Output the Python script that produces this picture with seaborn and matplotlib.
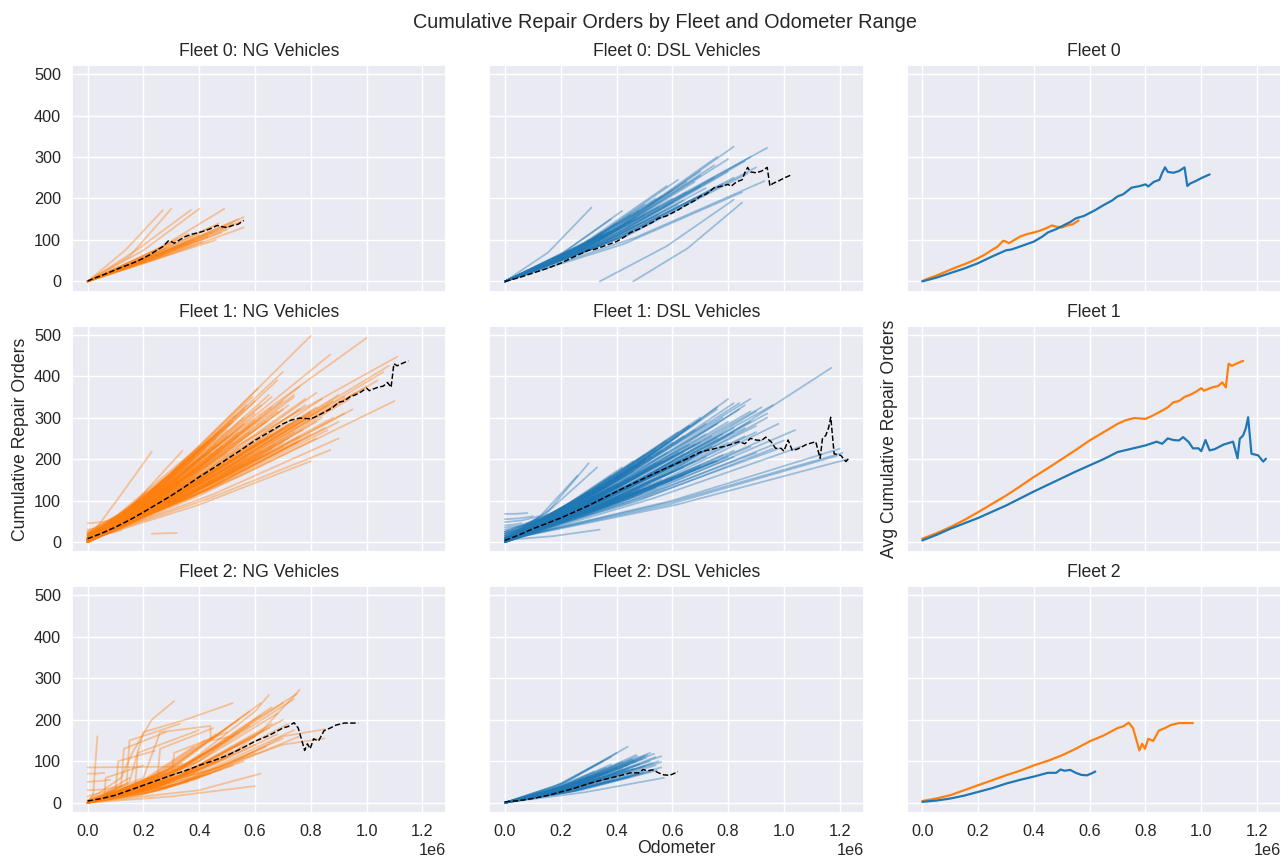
import numpy as np
import pandas as pd
import matplotlib
matplotlib.use("Agg")
import matplotlib.pyplot as plt
import seaborn as sns

# ---------------- data (odometer in thousands, repair orders) ----------------
ODO_UNIT = 1000

# average curves (dashed in vehicle panels, solid in right column)
F0_NG_AVG_X = [0, 25, 50, 75, 100, 125, 150, 175, 200, 225, 250, 270, 290, 300, 310, 330, 350, 375, 400, 420, 440, 465, 480, 500, 520, 540, 560]
F0_NG_AVG_Y = [1, 8, 14, 21, 28, 35, 41, 48, 56, 65, 76, 84, 98, 96, 92, 100, 108, 114, 118, 122, 127, 135, 132, 130, 135, 138, 147]

F0_DSL_AVG_X = [0, 50, 100, 150, 200, 250, 300, 320, 350, 400, 430, 450, 480, 500, 530, 550, 580, 600, 620, 650, 680, 700, 720, 750, 780, 800, 810, 830, 850, 860, 870, 880, 900, 920, 940, 950, 960, 980, 1000, 1030]
F0_DSL_AVG_Y = [0, 9, 20, 31, 44, 60, 75, 77, 84, 96, 108, 118, 126, 133, 143, 152, 158, 165, 172, 184, 195, 205, 210, 226, 230, 234, 229, 240, 245, 262, 275, 264, 262, 266, 275, 230, 236, 242, 249, 258]

F1_NG_AVG_X = [0, 50, 100, 150, 200, 250, 300, 350, 400, 450, 500, 550, 600, 650, 700, 730, 760, 780, 800, 820, 840, 860, 880, 900, 920, 940, 960, 980, 1000, 1010, 1020, 1040, 1060, 1075, 1088, 1098, 1110, 1125, 1150]
F1_NG_AVG_Y = [8, 21, 36, 53, 72, 92, 112, 134, 157, 178, 200, 222, 245, 265, 285, 294, 299, 298, 297, 303, 310, 317, 325, 337, 340, 350, 355, 362, 371, 365, 368, 373, 376, 385, 373, 430, 425, 430, 437]

F1_DSL_AVG_X = [0, 50, 100, 150, 200, 250, 300, 350, 400, 450, 500, 550, 600, 650, 700, 750, 800, 840, 860, 880, 900, 920, 935, 955, 970, 990, 1000, 1015, 1030, 1048, 1080, 1114, 1130, 1138, 1150, 1160, 1168, 1180, 1204, 1222, 1232]
F1_DSL_AVG_Y = [4, 17, 32, 45, 58, 73, 88, 105, 122, 138, 154, 170, 185, 200, 217, 225, 233, 242, 237, 250, 246, 245, 253, 241, 226, 226, 219, 246, 221, 224, 235, 242, 202, 249, 257, 275, 301, 213, 209, 194, 201]

F2_NG_AVG_X = [0, 50, 100, 150, 200, 250, 300, 350, 400, 450, 500, 550, 600, 650, 700, 720, 740, 755, 768, 778, 788, 798, 810, 828, 848, 870, 890, 920, 950, 970]
F2_NG_AVG_Y = [4, 10, 18, 30, 42, 54, 66, 77, 90, 101, 114, 130, 148, 162, 180, 184, 193, 180, 150, 126, 142, 130, 154, 149, 174, 180, 187, 192, 192, 192]

F2_DSL_AVG_X = [0, 50, 100, 150, 200, 250, 300, 350, 400, 450, 480, 495, 510, 530, 550, 570, 590, 605, 620]
F2_DSL_AVG_Y = [2, 5, 10, 17, 26, 35, 46, 55, 63, 72, 72, 80, 77, 79, 72, 67, 66, 70, 75]

# individual vehicles: (odo_start, odo_end, ro_start, ro_mid, ro_end)
F0_NG = [
    (0, 270, 0, 75, 172), (0, 300, 0, 60, 175), (0, 370, 0, 80, 172), (0, 400, 0, 75, 175),
    (0, 490, 0, 75, 175), (0, 560, 0, 75, 155), (0, 560, 0, 62, 130), (0, 540, 0, 70, 150),
    (0, 520, 0, 65, 140), (0, 500, 0, 60, 125), (0, 480, 0, 55, 118), (0, 450, 0, 58, 120),
    (0, 430, 0, 50, 108), (0, 400, 0, 52, 112), (0, 380, 0, 45, 98), (0, 350, 0, 45, 92),
    (0, 330, 0, 40, 85), (0, 300, 0, 45, 90), (0, 280, 0, 38, 80), (0, 250, 0, 30, 70),
    (0, 220, 0, 28, 60), (0, 200, 0, 25, 55), (0, 470, 0, 65, 140), (0, 520, 0, 62, 135),
    (0, 440, 0, 62, 130), (0, 360, 0, 55, 115), (0, 320, 0, 50, 100), (0, 550, 0, 70, 145),
    (0, 410, 0, 45, 95), (0, 460, 0, 50, 100),
]

F0_DSL = [
    (0, 310, 0, 70, 178), (0, 820, 0, 130, 325), (0, 940, 0, 150, 322), (0, 880, 0, 135, 300),
    (0, 860, 0, 125, 290), (0, 800, 0, 125, 295), (0, 750, 0, 115, 280), (0, 700, 0, 110, 265),
    (0, 650, 0, 95, 240), (0, 600, 0, 90, 220), (0, 560, 0, 85, 205), (0, 500, 0, 75, 185),
    (0, 450, 0, 65, 160), (0, 400, 0, 55, 140), (0, 350, 0, 45, 120), (0, 300, 0, 42, 100),
    (0, 250, 0, 35, 80), (0, 870, 0, 110, 260), (0, 900, 0, 115, 275), (0, 820, 0, 105, 250),
    (0, 780, 0, 100, 235), (0, 720, 0, 95, 225), (0, 680, 0, 85, 200), (0, 640, 0, 80, 195),
    (0, 620, 0, 100, 245), (0, 580, 0, 95, 230), (0, 930, 0, 105, 242), (0, 850, 0, 90, 215),
    (340, 820, 0, 85, 197), (460, 850, 0, 80, 190), (0, 540, 0, 80, 200), (0, 480, 0, 70, 170),
    (0, 760, 0, 120, 300), (0, 700, 0, 105, 255), (0, 600, 0, 80, 190), (0, 550, 0, 70, 160),
    (0, 200, 0, 25, 60), (0, 150, 0, 18, 40), (0, 380, 0, 60, 150), (0, 420, 0, 70, 170),
    (0, 500, 0, 65, 160), (0, 550, 0, 75, 180), (0, 600, 0, 85, 200), (0, 650, 0, 90, 215),
    (0, 700, 0, 95, 230), (0, 750, 0, 105, 250), (0, 800, 0, 110, 265), (0, 450, 0, 60, 145),
    (0, 400, 0, 52, 125), (0, 350, 0, 50, 115), (0, 300, 0, 38, 95), (0, 620, 0, 80, 185),
    (0, 680, 0, 100, 240), (0, 740, 0, 95, 220),
]

F1_NG = [
    (0, 800, 5, 230, 497), (0, 1000, 5, 250, 492), (0, 870, 5, 215, 452), (0, 1110, 5, 240, 447),
    (0, 1100, 5, 160, 340), (0, 1060, 5, 195, 410), (0, 1080, 5, 205, 425), (0, 230, 5, 110, 218),
    (0, 340, 5, 95, 220), (0, 700, 5, 190, 410), (0, 800, 5, 90, 195), (0, 870, 5, 105, 222),
    (0, 950, 5, 150, 320), (0, 920, 5, 165, 350), (0, 760, 5, 170, 375), (0, 680, 5, 175, 390),
    (0, 650, 5, 160, 355), (0, 620, 5, 150, 330), (0, 600, 5, 140, 310), (0, 580, 5, 125, 280),
    (0, 560, 5, 135, 300), (0, 540, 5, 120, 265), (0, 520, 5, 110, 240), (0, 500, 5, 115, 255),
    (0, 480, 5, 100, 220), (0, 460, 5, 105, 235), (0, 440, 5, 90, 200), (0, 420, 5, 95, 210),
    (0, 400, 5, 80, 175), (0, 380, 5, 85, 185), (0, 360, 5, 72, 160), (0, 340, 5, 68, 150),
    (0, 320, 5, 62, 135), (0, 300, 5, 60, 130), (0, 280, 5, 52, 115), (0, 260, 5, 50, 105),
    (0, 240, 5, 45, 95), (0, 220, 5, 40, 85), (0, 200, 5, 38, 80), (0, 180, 5, 33, 70),
    (0, 160, 5, 30, 62), (0, 140, 5, 26, 55), (0, 120, 5, 22, 47), (0, 100, 5, 20, 40),
    (0, 700, 5, 145, 320), (0, 720, 5, 130, 285), (0, 740, 5, 120, 265), (0, 760, 5, 110, 245),
    (0, 780, 5, 150, 330), (0, 800, 5, 140, 310), (0, 820, 5, 130, 290), (0, 840, 5, 160, 345),
    (0, 860, 5, 125, 270), (0, 880, 5, 140, 300), (0, 900, 5, 115, 250), (0, 650, 5, 115, 255),
    (0, 660, 5, 100, 225), (0, 630, 5, 95, 210), (0, 610, 5, 170, 370), (0, 590, 5, 160, 350),
    (0, 570, 5, 150, 330), (0, 550, 5, 95, 210), (0, 530, 5, 140, 305), (0, 510, 5, 130, 285),
    (0, 490, 5, 85, 190), (0, 470, 5, 120, 265), (0, 450, 5, 78, 170), (0, 430, 5, 110, 240),
    (0, 410, 5, 70, 155), (0, 390, 5, 100, 220), (0, 370, 5, 62, 140), (0, 350, 5, 90, 195),
    (0, 330, 5, 55, 120), (0, 310, 5, 80, 170), (0, 290, 5, 48, 105), (0, 270, 5, 70, 150),
    (0, 250, 5, 42, 92), (0, 210, 5, 55, 120), (0, 190, 5, 48, 100), (0, 170, 5, 40, 85),
    (0, 680, 5, 125, 275), (0, 960, 5, 170, 360), (0, 1000, 5, 175, 375), (0, 1040, 5, 185, 390),
    (0, 100, 45, 48, 55), (0, 80, 30, 33, 40), (0, 60, 20, 24, 28), (0, 120, 10, 18, 28),
    (230, 320, 20, 21, 22), (0, 820, 5, 165, 360), (0, 740, 5, 160, 350),
    (0, 300, 15, 70, 140), (0, 320, 0, 60, 150), (0, 340, 20, 80, 165), (0, 360, 10, 75, 175),
    (0, 380, 25, 95, 200), (0, 400, 0, 85, 195), (0, 420, 15, 100, 225), (0, 440, 5, 95, 215),
    (0, 460, 20, 110, 250), (0, 480, 0, 100, 230), (0, 500, 10, 120, 270), (0, 520, 15, 120, 260),
    (0, 540, 5, 115, 255), (0, 560, 20, 130, 285), (0, 580, 0, 120, 265), (0, 600, 10, 135, 295),
    (0, 620, 25, 140, 300), (0, 640, 0, 130, 290), (0, 660, 15, 150, 325), (0, 680, 5, 145, 315),
    (0, 700, 10, 155, 340), (0, 720, 0, 150, 330), (0, 740, 20, 165, 355), (0, 760, 5, 150, 320),
    (0, 780, 10, 160, 345), (0, 800, 0, 145, 315), (0, 820, 15, 150, 325), (0, 840, 5, 140, 300),
    (0, 860, 10, 150, 330), (0, 880, 0, 155, 340), (0, 900, 5, 165, 355), (0, 920, 10, 145, 310),
    (0, 940, 0, 160, 345), (0, 500, 0, 95, 215), (0, 540, 10, 100, 225), (0, 580, 5, 105, 235),
    (0, 620, 0, 110, 245), (0, 660, 10, 120, 260), (0, 700, 0, 125, 275), (0, 740, 5, 135, 290),
    (0, 780, 0, 135, 295), (0, 450, 10, 80, 180), (0, 410, 0, 75, 165), (0, 370, 5, 70, 150),
    (0, 330, 15, 65, 140), (0, 290, 0, 55, 120), (0, 250, 10, 55, 115), (0, 210, 0, 40, 90),
    (0, 170, 20, 45, 85), (0, 130, 0, 28, 60), (0, 90, 15, 25, 40), (0, 700, 0, 110, 240),
    (0, 760, 0, 120, 255), (0, 820, 0, 115, 250), (0, 660, 0, 160, 350), (0, 600, 0, 155, 340),
    (0, 560, 10, 145, 320), (0, 520, 0, 130, 290), (0, 480, 5, 125, 270), (0, 440, 0, 115, 250),
    (0, 400, 10, 105, 230), (0, 360, 0, 95, 205),
    (0, 300, 5, 45, 100), (0, 350, 10, 55, 115), (0, 400, 0, 60, 130), (0, 450, 5, 70, 150),
    (0, 500, 0, 75, 165), (0, 550, 10, 85, 185), (0, 600, 0, 90, 200), (0, 650, 5, 100, 215),
    (0, 700, 0, 105, 230), (0, 750, 5, 110, 240), (0, 800, 0, 120, 260), (0, 850, 5, 125, 275),
    (0, 900, 0, 135, 290), (0, 520, 0, 85, 185), (0, 570, 5, 95, 205), (0, 620, 0, 100, 220),
    (0, 670, 10, 110, 235), (0, 720, 0, 115, 250), (0, 770, 5, 125, 270), (0, 420, 0, 68, 150),
    (0, 380, 5, 60, 135),
]

F1_DSL = [
    (0, 1170, 5, 165, 420), (0, 800, 5, 150, 345), (0, 760, 5, 140, 325), (0, 860, 5, 140, 330),
    (0, 900, 5, 135, 315), (0, 940, 5, 130, 300), (0, 980, 5, 125, 285), (0, 1040, 5, 120, 270),
    (0, 1200, 5, 100, 225), (0, 1230, 5, 90, 200), (0, 1190, 5, 92, 208), (0, 1210, 5, 98, 215),
    (0, 1000, 5, 110, 245), (0, 960, 5, 100, 225), (0, 300, 5, 70, 190), (0, 340, 5, 14, 30),
    (0, 260, 5, 65, 160), (0, 330, 5, 80, 180), (0, 100, 5, 15, 30), (0, 80, 68, 68, 70),
    (0, 100, 55, 57, 62), (0, 60, 40, 42, 45), (0, 150, 30, 40, 55), (0, 120, 48, 52, 62),
    (0, 140, 20, 30, 48), (0, 160, 10, 28, 50), (0, 180, 5, 30, 60), (0, 200, 5, 35, 75),
    (0, 220, 5, 40, 85), (0, 240, 5, 38, 80), (0, 260, 5, 45, 95), (0, 280, 5, 42, 90),
    (0, 300, 5, 50, 105), (0, 320, 5, 48, 100), (0, 350, 5, 60, 130), (0, 370, 5, 55, 115),
    (0, 400, 5, 70, 150), (0, 420, 5, 62, 135), (0, 440, 5, 80, 175), (0, 460, 5, 65, 140),
    (0, 480, 5, 85, 185), (0, 500, 5, 70, 150), (0, 520, 5, 95, 205), (0, 540, 5, 78, 165),
    (0, 560, 5, 100, 220), (0, 580, 5, 82, 175), (0, 600, 5, 110, 240), (0, 620, 5, 90, 190),
    (0, 640, 5, 118, 255), (0, 660, 5, 95, 205), (0, 680, 5, 125, 270), (0, 700, 5, 100, 215),
    (0, 720, 5, 130, 285), (0, 740, 5, 105, 230), (0, 760, 5, 115, 250), (0, 780, 5, 135, 300),
    (0, 800, 5, 110, 240), (0, 820, 5, 125, 275), (0, 840, 5, 145, 320), (0, 860, 5, 115, 255),
    (0, 880, 5, 130, 290), (0, 900, 5, 120, 265), (0, 920, 5, 110, 245), (0, 600, 5, 80, 170),
    (0, 640, 5, 85, 180), (0, 680, 5, 90, 195), (0, 720, 5, 95, 205), (0, 560, 5, 70, 150),
    (0, 520, 5, 65, 140), (0, 480, 5, 60, 128), (0, 450, 5, 55, 118), (0, 700, 5, 140, 300),
    (0, 660, 5, 130, 280), (0, 620, 5, 125, 265), (0, 580, 5, 115, 245), (0, 540, 5, 105, 225),
    (0, 500, 5, 100, 210), (0, 460, 5, 90, 195), (0, 420, 5, 85, 180), (0, 380, 5, 75, 160),
    (0, 820, 5, 100, 220), (0, 780, 5, 95, 210), (0, 880, 5, 105, 230),
    (0, 300, 10, 55, 115), (0, 340, 25, 70, 135), (0, 380, 0, 60, 130), (0, 420, 15, 80, 165),
    (0, 460, 5, 80, 170), (0, 500, 20, 95, 195), (0, 540, 0, 90, 190), (0, 580, 10, 105, 215),
    (0, 620, 0, 100, 215), (0, 660, 15, 115, 235), (0, 700, 5, 115, 240), (0, 740, 0, 120, 255),
    (0, 780, 10, 120, 260), (0, 820, 0, 125, 265), (0, 860, 5, 130, 275), (0, 900, 0, 130, 280),
    (0, 940, 10, 140, 310), (0, 960, 0, 150, 330), (0, 920, 5, 150, 325), (0, 880, 0, 145, 315),
    (0, 840, 10, 155, 335), (0, 800, 0, 130, 290), (0, 760, 15, 135, 285), (0, 720, 0, 120, 260),
    (0, 680, 10, 110, 235), (0, 640, 0, 100, 215), (0, 600, 20, 100, 205), (0, 560, 0, 90, 195),
    (0, 520, 10, 85, 180), (0, 480, 0, 75, 160), (0, 440, 25, 75, 150), (0, 400, 0, 65, 140),
    (0, 360, 10, 60, 125), (0, 320, 0, 50, 110), (0, 280, 15, 50, 100), (0, 240, 0, 35, 75),
    (0, 200, 20, 40, 70), (0, 160, 0, 22, 45), (0, 120, 35, 40, 55), (0, 90, 25, 30, 40),
    (0, 700, 0, 85, 185), (0, 760, 0, 90, 195), (0, 820, 5, 95, 205), (0, 900, 0, 100, 215),
    (0, 980, 0, 105, 225), (0, 1060, 0, 105, 230), (0, 640, 0, 75, 160), (0, 600, 5, 70, 150),
    (0, 540, 0, 60, 130), (0, 880, 0, 165, 345), (0, 820, 0, 150, 335), (0, 760, 0, 145, 320),
    (0, 700, 5, 130, 295), (0, 660, 0, 125, 280), (0, 620, 0, 115, 255), (0, 580, 0, 110, 240),
    (0, 540, 0, 100, 220), (0, 500, 0, 90, 200), (0, 460, 0, 85, 185),
    (0, 400, 5, 50, 105), (0, 450, 0, 55, 115), (0, 500, 10, 62, 130), (0, 550, 0, 68, 140),
    (0, 600, 5, 75, 155), (0, 650, 0, 80, 165), (0, 700, 5, 90, 180), (0, 750, 0, 95, 195),
    (0, 800, 5, 100, 205), (0, 350, 0, 42, 90), (0, 300, 5, 38, 80), (0, 480, 0, 70, 150),
    (0, 530, 5, 78, 165), (0, 580, 0, 85, 180), (0, 630, 5, 92, 195), (0, 680, 0, 100, 210),
    (0, 730, 5, 108, 225),
]

F2_NG = [
    (0, 200, 0, 12, 40), (0, 250, 0, 15, 50), (0, 300, 0, 20, 60), (0, 350, 0, 25, 70),
    (0, 400, 0, 28, 80), (0, 450, 0, 32, 95), (0, 500, 0, 38, 110), (0, 550, 0, 45, 130),
    (0, 600, 0, 55, 160), (0, 650, 0, 60, 180), (0, 700, 0, 70, 200), (0, 720, 0, 65, 190),
    (0, 680, 0, 75, 215), (0, 620, 0, 70, 210), (0, 580, 0, 62, 185), (0, 540, 0, 58, 170),
    (0, 500, 0, 50, 150), (0, 460, 0, 45, 135), (0, 420, 0, 40, 120), (0, 380, 0, 36, 105),
    (0, 340, 0, 32, 95), (0, 300, 0, 30, 85), (0, 260, 0, 26, 72), (0, 220, 0, 22, 60),
    (0, 180, 0, 18, 48), (0, 150, 0, 15, 40), (0, 600, 0, 40, 120), (0, 640, 0, 45, 135),
    (0, 560, 0, 35, 100), (0, 520, 0, 30, 90), (0, 480, 0, 28, 80), (0, 440, 0, 25, 70),
    (0, 400, 0, 20, 60), (0, 360, 0, 18, 50), (0, 660, 0, 80, 230), (0, 700, 0, 85, 240),
    (0, 740, 0, 90, 250), (0, 620, 0, 85, 240), (0, 580, 0, 80, 220), (0, 540, 0, 70, 200),
    (0, 500, 0, 65, 180), (0, 460, 0, 60, 165), (0, 420, 0, 55, 150), (0, 380, 0, 50, 135),
    (0, 700, 0, 50, 155), (0, 740, 0, 60, 175), (0, 760, 0, 55, 160), (0, 680, 0, 55, 165),
    (0, 660, 0, 65, 190), (0, 630, 0, 60, 175), (0, 100, 5, 15, 30), (0, 120, 30, 32, 40),
    (0, 80, 50, 52, 55), (0, 150, 15, 30, 60), (0, 60, 70, 70, 72),
    (0, 520, 0, 42, 125), (0, 560, 0, 50, 145), (0, 600, 0, 48, 140), (0, 470, 0, 35, 100),
    (0, 430, 0, 32, 90), (0, 390, 0, 30, 82), (0, 320, 0, 24, 68), (0, 280, 0, 20, 58),
]

# fleet 2 NG vehicles with sudden jumps: (odometer list, repair-order list)
F2_NG_JUMPS = [
    ([0, 20, 35], [0, 20, 160]),
    ([0, 340], [85, 87]),
    ([0, 120, 160, 230, 310], [5, 60, 120, 200, 245]),
    ([0, 150, 200, 350, 520], [5, 50, 170, 200, 240]),
    ([0, 200, 260, 440, 442, 520], [5, 60, 170, 185, 150, 160]),
    ([0, 300, 600], [0, 15, 40]),
    ([0, 400, 620], [0, 30, 70]),
    ([0, 500, 620, 760], [0, 110, 170, 272]),
    ([0, 400, 600, 750], [0, 100, 200, 262]),
    ([0, 350, 600, 650], [0, 90, 220, 260]),
    ([0, 500, 700, 850], [0, 90, 160, 177]),
    ([0, 450, 700, 850], [0, 80, 140, 155]),
    ([0, 120, 130, 280], [0, 40, 130, 170]),
    ([0, 170, 180, 400], [0, 40, 120, 175]),
    ([0, 100, 110, 240], [0, 30, 100, 125]),
    ([0, 140, 150, 330], [0, 45, 150, 190]),
    ([0, 250, 260, 450], [0, 60, 130, 180]),
    ([0, 60, 65, 200], [0, 15, 60, 90]),
    ([0, 300, 310, 500], [0, 50, 120, 170]),
]

F2_DSL = [
    (0, 440, 0, 50, 135), (0, 520, 0, 50, 120), (0, 570, 0, 25, 60), (0, 560, 0, 35, 85),
    (0, 550, 0, 40, 100), (0, 540, 0, 42, 110), (0, 530, 0, 38, 95), (0, 520, 0, 30, 75),
    (0, 510, 0, 45, 115), (0, 500, 0, 35, 88), (0, 490, 0, 40, 105), (0, 480, 0, 28, 70),
    (0, 470, 0, 38, 100), (0, 460, 0, 32, 82), (0, 450, 0, 25, 62), (0, 440, 0, 34, 90),
    (0, 430, 0, 30, 78), (0, 420, 0, 38, 98), (0, 410, 0, 26, 66), (0, 400, 0, 32, 85),
    (0, 390, 0, 22, 55), (0, 380, 0, 36, 92), (0, 360, 0, 28, 72), (0, 340, 0, 24, 60),
    (0, 320, 0, 30, 75), (0, 300, 0, 20, 50), (0, 280, 0, 24, 58), (0, 250, 0, 16, 40),
    (0, 220, 0, 18, 42), (0, 200, 0, 12, 30), (0, 560, 0, 45, 112), (0, 545, 0, 30, 78),
    (0, 535, 0, 48, 118), (0, 505, 0, 42, 108), (0, 495, 0, 28, 72), (0, 475, 0, 44, 112),
    (0, 455, 0, 42, 105), (0, 380, 0, 40, 110), (0, 350, 0, 38, 100), (0, 400, 0, 45, 120),
    (0, 480, 0, 36, 92), (0, 520, 0, 40, 100), (0, 500, 0, 45, 112), (0, 460, 0, 40, 102),
    (0, 440, 0, 30, 80), (0, 420, 0, 32, 82), (0, 540, 0, 36, 90), (0, 560, 0, 40, 98),
    (0, 400, 0, 28, 72), (0, 380, 0, 30, 78), (0, 360, 0, 32, 84), (0, 340, 0, 28, 70),
    (0, 300, 0, 26, 65), (0, 260, 0, 20, 50), (0, 500, 0, 30, 78), (0, 470, 0, 44, 115),
]

FLEETS = [0, 1, 2]
NG_COLOR = "#ff7f0e"
DSL_COLOR = "#1f77b4"


def vehicles_frame(rows, polylines=()):
    recs = []
    vid = 0
    for (x0, x1, y0, ym, y1) in rows:
        for x, y in zip([x0, (x0 + x1) / 2, x1], [y0, ym, y1]):
            recs.append((vid, x * ODO_UNIT, y))
        vid += 1
    for xs, ys in polylines:
        for x, y in zip(xs, ys):
            recs.append((vid, x * ODO_UNIT, y))
        vid += 1
    return pd.DataFrame(recs, columns=["vehicle", "Odometer", "RO"])


def avg_frame(xs, ys):
    return pd.DataFrame({"Odometer": np.array(xs) * ODO_UNIT, "RO": ys})


panels = {
    0: (vehicles_frame(F0_NG), vehicles_frame(F0_DSL),
        avg_frame(F0_NG_AVG_X, F0_NG_AVG_Y), avg_frame(F0_DSL_AVG_X, F0_DSL_AVG_Y)),
    1: (vehicles_frame(F1_NG), vehicles_frame(F1_DSL),
        avg_frame(F1_NG_AVG_X, F1_NG_AVG_Y), avg_frame(F1_DSL_AVG_X, F1_DSL_AVG_Y)),
    2: (vehicles_frame(F2_NG, F2_NG_JUMPS), vehicles_frame(F2_DSL),
        avg_frame(F2_NG_AVG_X, F2_NG_AVG_Y), avg_frame(F2_DSL_AVG_X, F2_DSL_AVG_Y)),
}

# ---------------- plotting ----------------
sns.set_theme(style="darkgrid")
plt.rcParams["font.family"] = ["Liberation Sans", "DejaVu Sans"]

fig, axes = plt.subplots(3, 3, figsize=(1288 / 106, 859 / 106), dpi=106,
                         sharex=True, sharey=True)
fig.subplots_adjust(left=0.0559, right=0.9946, top=0.9243, bottom=0.0536,
                    wspace=0.115, hspace=0.15)

for r, fleet in enumerate(FLEETS):
    ng_df, dsl_df, ng_avg, dsl_avg = panels[fleet]
    for c, (df, avg, col, kind) in enumerate([(ng_df, ng_avg, NG_COLOR, "NG"),
                                               (dsl_df, dsl_avg, DSL_COLOR, "DSL")]):
        ax = axes[r, c]
        sns.lineplot(data=df, x="Odometer", y="RO", units="vehicle", estimator=None,
                     sort=False, color=col, alpha=0.4, lw=1.2, ax=ax, legend=False)
        sns.lineplot(data=avg, x="Odometer", y="RO", color="black", lw=1.0,
                     linestyle="--", ax=ax, legend=False)
        ax.set_title(f"Fleet {fleet}: {kind} Vehicles")
        ax.set_xlabel("")
        ax.set_ylabel("")
    ax = axes[r, 2]
    sns.lineplot(data=ng_avg, x="Odometer", y="RO", color=NG_COLOR, lw=1.5, ax=ax)
    sns.lineplot(data=dsl_avg, x="Odometer", y="RO", color=DSL_COLOR, lw=1.5, ax=ax)
    ax.set_title(f"Fleet {fleet}")
    ax.set_xlabel("")
    ax.set_ylabel("")

for ax in axes.flat:
    ax.tick_params(axis="both", length=0, pad=7.5)

axes[0, 0].set_xlim(-56000, 1286000)
axes[0, 0].set_ylim(-24.8, 521.8)
axes[0, 0].set_yticks([0, 100, 200, 300, 400, 500])
axes[0, 0].set_xticks([0, 200000, 400000, 600000, 800000, 1000000, 1200000])

axes[1, 0].set_ylabel("Cumulative Repair Orders", labelpad=3.5)
axes[1, 2].set_ylabel("Avg Cumulative Repair Orders", labelpad=6)
axes[1, 2].yaxis.label.set_visible(True)
axes[2, 1].set_xlabel("Odometer", labelpad=1)

fig.suptitle("Cumulative Repair Orders by Fleet and Odometer Range", fontsize=13.5,
             x=0.516, y=0.985)

fig.savefig("out.png", dpi=106)
